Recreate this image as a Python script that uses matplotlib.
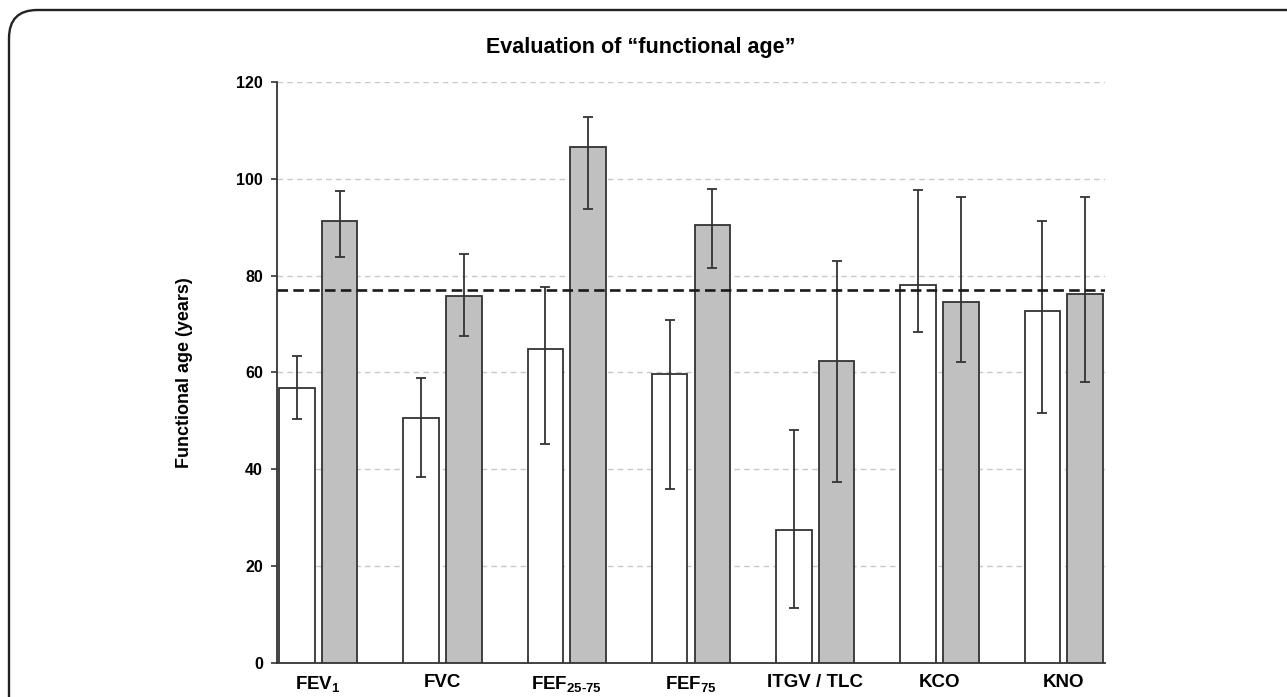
import matplotlib
matplotlib.use("Agg")
import matplotlib.pyplot as plt
from matplotlib.patches import FancyBboxPatch
import numpy as np

plt.rcParams['font.family'] = ['Liberation Sans', 'DejaVu Sans']
plt.rcParams['mathtext.fontset'] = 'custom'
plt.rcParams['mathtext.rm'] = 'Liberation Sans:bold'
plt.rcParams['mathtext.it'] = 'Liberation Sans:bold'
plt.rcParams['mathtext.bf'] = 'Liberation Sans:bold'

categories = ["FEV$_1$", "FVC", "FEF$_{25\\text{-}75}$", "FEF$_{75}$", "ITGV / TLC", "KCO", "KNO"]
white_vals = [56.9, 50.5, 64.8, 59.7, 27.5, 78.0, 72.6]
white_hi = [63.4, 58.8, 77.7, 70.8, 48.1, 97.6, 91.2]
white_lo = [50.3, 38.5, 45.2, 36.0, 11.4, 68.4, 51.6]
gray_vals = [91.3, 75.8, 106.5, 90.4, 62.4, 74.5, 76.3]
gray_hi = [97.5, 84.5, 112.7, 97.8, 83.1, 96.2, 96.3]
gray_lo = [83.8, 67.5, 93.7, 81.6, 37.4, 62.1, 58.0]
reference_age = 77.1
yticks = [0, 20, 40, 60, 80, 100, 120]

W, H = 1287, 697
fig = plt.figure(figsize=(W / 100, H / 100), dpi=100)

# rounded frame
frame = FancyBboxPatch((9 / W, -0.2), 1.2, 1 - 10 / H + 0.2,
                       boxstyle="round,pad=0,rounding_size=0.022",
                       transform=fig.transFigure, fill=False,
                       edgecolor='#222222', linewidth=1.7,
                       mutation_aspect=W / H, clip_on=False)
fig.patches.append(frame)

ax = fig.add_axes([277 / W, 1 - 663 / H, (1105 - 277) / W, (663 - 82) / H])

x = np.arange(len(categories))
off = 0.172
bw = 0.285
wv = np.array(white_vals); gv = np.array(gray_vals)
werr = [wv - np.array(white_lo), np.array(white_hi) - wv]
gerr = [gv - np.array(gray_lo), np.array(gray_hi) - gv]

ax.bar(x - off, wv, bw, color='white', edgecolor='#333333', linewidth=1.3, zorder=3)
ax.bar(x + off, gv, bw, color='#c0c0c0', edgecolor='#333333', linewidth=1.3, zorder=3)
ax.errorbar(x - off, wv, yerr=werr, fmt='none', ecolor='#333333', elinewidth=1.3,
            capsize=3.5, capthick=1.3, zorder=4)
ax.errorbar(x + off, gv, yerr=gerr, fmt='none', ecolor='#333333', elinewidth=1.3,
            capsize=3.5, capthick=1.3, zorder=4)

ax.axhline(reference_age, color='#1a1a1a', linestyle=(0, (4, 2)), linewidth=1.9, zorder=5)

ax.set_xlim(-0.332, len(categories) - 1 + 0.332)
ax.set_ylim(0, 120)
ax.set_yticks(yticks)
ax.set_yticklabels([str(t) for t in yticks], fontsize=11.5, fontweight='bold')
for t in yticks[1:]:
    ax.axhline(t, color='#c8c8c8', linestyle=(0, (4, 3)), linewidth=1.0, zorder=1)

ax.set_xticks(x)
ax.set_xticklabels(categories, fontsize=13.5, fontweight='bold')
ax.tick_params(axis='x', length=0, pad=8)
ax.tick_params(axis='y', length=4, width=1.2, color='#333333', pad=6)

for s in ['top', 'right']:
    ax.spines[s].set_visible(False)
for s in ['left', 'bottom']:
    ax.spines[s].set_color('#333333')
    ax.spines[s].set_linewidth(1.3)

ax.set_ylabel("Functional age (years)", fontsize=13, fontweight='bold')
ax.yaxis.set_label_coords(-0.102, 0.5)

fig.text(641 / W, 1 - 47 / H, "Evaluation of \u201cfunctional age\u201d",
         ha='center', va='center', fontsize=15.5, fontweight='bold')

fig.savefig("out.png", dpi=100)
